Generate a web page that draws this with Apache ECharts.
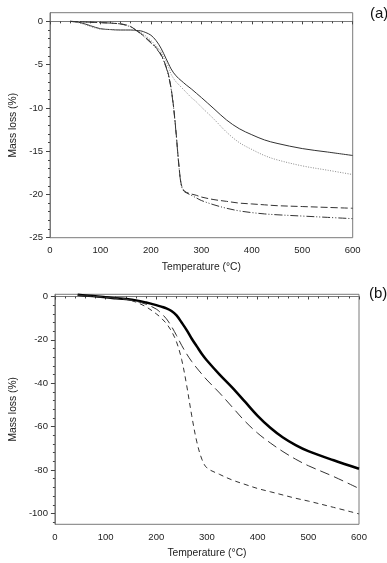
<!DOCTYPE html>
<html>
<head>
<meta charset="utf-8">
<script src="https://cdn.jsdelivr.net/npm/echarts@6/dist/echarts.min.js"></script>
<style>
html,body{margin:0;padding:0;background:#fff;}
#c{width:387px;height:563px;}
</style>
</head>
<body>
<div id="c"></div>
<script>
// ---------- Panel (a) data ----------
var tempA = [40,60,80,100,120,140,150,160,170,180,190,200,210,220,230,235,240,245,250,255,260,265,270,280,290,300,325,350,375,400,425,450,500,550,600];
var solidA = [0,-0.15,-0.5,-0.85,-0.95,-1.0,-1.0,-1.0,-1.05,-1.1,-1.3,-1.6,-2.2,-3.1,-4.3,-4.9,-5.5,-5.95,-6.3,-6.6,-6.85,-7.1,-7.35,-7.8,-8.3,-8.8,-10.1,-11.4,-12.4,-13.1,-13.7,-14.1,-14.7,-15.1,-15.5];
var dottedA = [0,-0.2,-0.6,-0.9,-0.95,-1.0,-1.0,-1.0,-1.1,-1.3,-1.7,-2.2,-2.8,-3.5,-4.6,-5.3,-6.1,-6.6,-7.0,-7.3,-7.6,-7.9,-8.2,-8.8,-9.3,-9.9,-11.3,-12.8,-14.0,-14.8,-15.5,-16.0,-16.7,-17.2,-17.7];
var dashedA = [0,-0.05,-0.1,-0.15,-0.2,-0.3,-0.4,-0.6,-1.0,-1.4,-1.9,-2.4,-3.0,-3.8,-5.2,-6.2,-7.7,-9.9,-12.9,-16.3,-18.8,-19.5,-19.75,-19.95,-20.1,-20.3,-20.6,-20.8,-21.0,-21.1,-21.2,-21.3,-21.4,-21.5,-21.6];
var dashDotA = [0,-0.05,-0.1,-0.15,-0.2,-0.3,-0.45,-0.65,-1.0,-1.45,-1.95,-2.5,-3.1,-3.9,-5.3,-6.3,-7.8,-10.0,-13.0,-16.4,-18.9,-19.6,-19.8,-20.1,-20.4,-20.7,-21.2,-21.6,-21.9,-22.1,-22.25,-22.35,-22.5,-22.65,-22.8];
var yTicksA = [0,-5,-10,-15,-20,-25];
var yMinorA = [0,-1,-2,-3,-4,-5,-6,-7,-8,-9,-10,-11,-12,-13,-14,-15,-16,-17,-18,-19,-20,-21,-22,-23,-24,-25];

// ---------- Panel (b) data ----------
var tempB = [45,60,80,100,120,140,160,180,200,210,220,230,240,250,260,270,280,290,300,325,350,375,400,425,450,475,500,550,600];
var boldB = [0.8,0.5,0.1,-0.4,-0.8,-1.2,-1.8,-2.8,-4.0,-4.7,-5.5,-6.7,-8.7,-12,-15.5,-19.5,-23,-26.5,-29.5,-36,-42,-48.5,-55,-60.5,-65,-68.5,-71.3,-75.5,-79.4];
var longB = [0.6,0.3,0,-0.4,-0.8,-1.3,-2.2,-3.6,-5.8,-7.8,-10.3,-13.8,-18,-22.5,-26.5,-30,-33,-35.8,-38.5,-44.5,-51,-57.5,-63,-67.5,-71.5,-75,-78,-83,-88.5];
var shortB = [0.6,0.3,0,-0.4,-0.8,-1.3,-2.6,-4.8,-8,-10,-12.5,-16,-21,-29,-41,-55,-67,-75,-79,-82,-84.6,-86.6,-88.5,-90,-91.5,-93,-94.3,-97.2,-100.2];
var yTicksB = [0,-20,-40,-60,-80,-100];
var yMinorB = [0,-4,-8,-12,-16,-20,-24,-28,-32,-36,-40,-44,-48,-52,-56,-60,-64,-68,-72,-76,-80,-84,-88,-92,-96,-100,-104];

var xName = 'Temperature (°C)';
var yName = 'Mass loss (%)';

function zip(xs, ys){ return xs.map(function(x,i){ return [x, ys[i]]; }); }

var FONT = '"Liberation Sans", Arial, sans-serif';
var axisCol = '#7a7a7a';
var txtCol = '#222';

function xAxisDef(gi){
  return {
    type:'value', gridIndex:gi, min:0, max:600, interval:100,
    name:xName, nameLocation:'middle', nameGap:24,
    nameTextStyle:{fontFamily:FONT, fontSize:10.3, color:txtCol},
    axisLine:{show:true, lineStyle:{color:axisCol, width:1}},
    axisTick:{show:true, inside:false, length:3, lineStyle:{color:'#444'}},
    minorTick:{show:true, splitNumber:5, length:2, lineStyle:{color:'#444'}},
    axisLabel:{fontFamily:FONT, fontSize:9.5, color:txtCol, margin:8},
    splitLine:{show:false}
  };
}
function yMajor(gi, mn, mx, ticks, gap){
  return {
    type:'value', gridIndex:gi, min:mn, max:mx,
    name:yName, nameLocation:'middle', nameGap:gap, nameRotate:90,
    nameTextStyle:{fontFamily:FONT, fontSize:10.3, color:txtCol},
    axisLine:{show:true, lineStyle:{color:axisCol, width:1}},
    axisTick:{show:true, length:4, customValues:ticks, lineStyle:{color:'#444'}},
    axisLabel:{fontFamily:FONT, fontSize:9.5, color:txtCol, margin:7, customValues:ticks},
    splitLine:{show:false}
  };
}
function yMinor(gi, mn, mx, ticks){
  return {
    type:'value', gridIndex:gi, min:mn, max:mx, position:'left',
    axisLine:{show:false},
    axisTick:{show:true, length:2, customValues:ticks, lineStyle:{color:'#444'}},
    axisLabel:{show:false},
    splitLine:{show:false}
  };
}
function lineSeries(xi, yi, xs, ys, style){
  return {type:'line', xAxisIndex:xi, yAxisIndex:yi, data:zip(xs, ys), showSymbol:false, smooth:0.35, lineStyle:style};
}

var option = {
  animation:false,
  backgroundColor:'#fff',
  title:[
    {text:'(a)', left:365, top:1, textStyle:{fontFamily:FONT, fontSize:15, fontWeight:'normal', color:'#111'}},
    {text:'(b)', left:364, top:281, textStyle:{fontFamily:FONT, fontSize:15, fontWeight:'normal', color:'#111'}}
  ],
  grid:[
    {left:40.3, top:12.7, width:312.4, height:225, show:true, borderColor:axisCol, borderWidth:1, backgroundColor:'transparent'},
    {left:41.3, top:294.3, width:317.7, height:230, show:true, borderColor:axisCol, borderWidth:1, backgroundColor:'transparent'}
  ],
  xAxis:[ xAxisDef(0), xAxisDef(1) ],
  yAxis:[
    yMajor(0, -25, 1, yTicksA, 32),
    yMinor(0, -25, 1, yMinorA),
    yMajor(1, -105, 1, yTicksB, 33),
    yMinor(1, -105, 1, yMinorB)
  ],
  series:[
    lineSeries(0,0,tempA,solidA,{color:'#333', width:1}),
    lineSeries(0,0,tempA,dottedA,{color:'#8a8a8a', width:1, type:[1,1.5]}),
    lineSeries(0,0,tempA,dashedA,{color:'#333', width:1, type:[7,3]}),
    lineSeries(0,0,tempA,dashDotA,{color:'#333', width:1, type:[8,2,1,2,1,2]}),
    lineSeries(1,2,tempB,boldB,{color:'#000', width:2.5}),
    lineSeries(1,2,tempB,longB,{color:'#333', width:1, type:[10,5]}),
    lineSeries(1,2,tempB,shortB,{color:'#333', width:1, type:[5,4]})
  ]
};
var chart = echarts.init(document.getElementById('c'), null, {renderer:'canvas'});
chart.setOption(option);
</script>
</body>
</html>
